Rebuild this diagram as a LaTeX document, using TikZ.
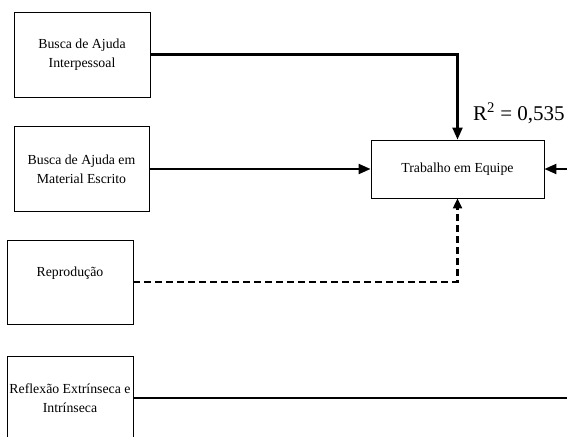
\documentclass[tikz,border=0pt]{standalone}
\usepackage{fontspec}
\setmainfont{Liberation Serif}
\usetikzlibrary{arrows.meta,calc}
\begin{document}
\begin{tikzpicture}[x=1pt,y=-1pt,
  box/.style={draw,line width=0.9pt,rectangle,inner sep=0pt,align=center,
    font=\fontsize{13.8}{19}\selectfont},
  txt/.style={inner sep=0pt,align=center,font=\fontsize{13.8}{19}\selectfont},
  link/.style={line width=2.2pt},
  arr/.style={link,-{Triangle[length=12pt,width=10pt]}},
  darr/.style={line width=2.2pt,dash pattern=on 7pt off 4pt,
    -{Triangle[length=10pt,width=9pt]}}]
\useasboundingbox (0,0) rectangle (567,436);
\fill[white] (0,0) rectangle (567,436);
\clip (0,0) rectangle (567,436);

% predictor boxes
\node[box,minimum width=136pt,minimum height=85pt] (bai) at (82,54.5)
  {Busca de Ajuda\\Interpessoal};
\node[box,minimum width=135pt,minimum height=85pt] (bam) at (81.5,169)
  {Busca de Ajuda em\\Material Escrito};
\node[box,minimum width=126pt,minimum height=84pt] (rep) at (70,282) {};
\node[txt] (reptxt) at ($(rep.center)+(0,-9)$) {Reprodução};
\node[box,minimum width=126pt,minimum height=84pt] (ref) at (70,398)
  {Reflexão Extrínseca e\\Intrínseca};

% outcome box
\node[box,minimum width=173pt,minimum height=58pt] (te) at (457.5,169)
  {Trabalho em Equipe};
\node[anchor=west,inner sep=0pt,font=\fontsize{21}{24}\selectfont] (r2)
  at (473,113) {R\textsuperscript{2} = 0,535};

% connectors
\coordinate (rin) at (575,169);
\coordinate (rout) at (575,398);
\draw[arr] (bai.east) -| (te.north);
\draw[arr] (bam.east) -- (te.west);
\draw[darr] (rep.east) -| (te.south);
\draw[arr] (rin) -- (te.east);
\draw[link] (ref.east) -- (rout);
\end{tikzpicture}
\end{document}
